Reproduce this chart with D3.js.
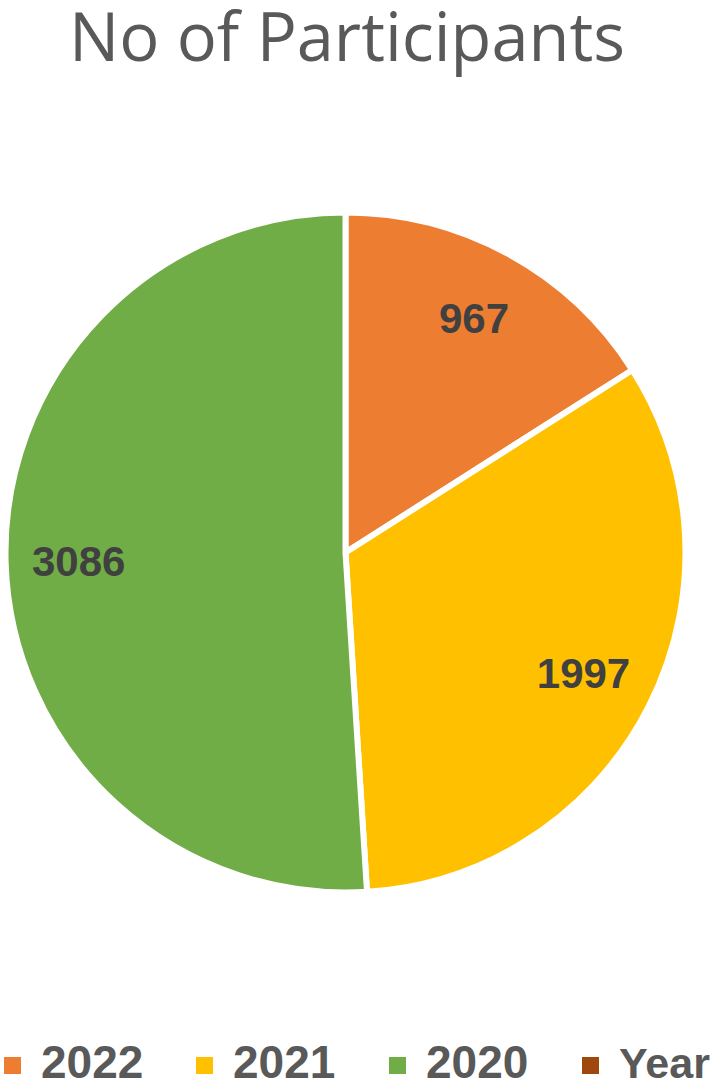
<!DOCTYPE html>
<html>
<head>
<meta charset="utf-8">
<script src="https://cdn.jsdelivr.net/npm/d3@7"></script>
<style>
  body { margin: 0; background: #fff; }
  svg { display: block; }
</style>
</head>
<body>
<script>
// chart data
var years = ["2022", "2021", "2020"];
var participants = [967, 1997, 3086];
var legendNames = ["2022", "2021", "2020", "Year"];
var colors = ["#ED7D31", "#FFC000", "#70AD47", "#9E480E"];

var svgWidth = 713;
var svgHeight = 1091;
var cx = 345.5, cy = 552.5, radius = 340;

var svg = d3.select("body")
  .append("svg")
  .attr("width", svgWidth)
  .attr("height", svgHeight);

// title
svg.append("text")
  .attr("x", 347)
  .attr("y", 61)
  .attr("text-anchor", "middle")
  .attr("font-family", "Open Sans, sans-serif")
  .attr("font-size", 67)
  .attr("fill", "#595959")
  .attr("textLength", 556)
  .attr("lengthAdjust", "spacingAndGlyphs")
  .text("No of Participants");

var pieData = d3.pie().sort(null)(participants);

var arc = d3.arc().innerRadius(0).outerRadius(radius);
var labelArc = d3.arc().innerRadius(267).outerRadius(267);

var chartGroup = svg.append("g")
  .attr("transform", `translate(${cx}, ${cy})`);

chartGroup.selectAll(".slice")
  .data(pieData)
  .enter()
  .append("path")
  .attr("class", "slice")
  .attr("d", arc)
  .attr("fill", (d, i) => colors[i])
  .attr("stroke", "#fff")
  .attr("stroke-width", 6)
  .attr("stroke-linejoin", "round");

chartGroup.selectAll(".label")
  .data(pieData)
  .enter()
  .append("text")
  .attr("class", "label")
  .attr("transform", d => `translate(${labelArc.centroid(d)})`)
  .attr("dy", "0.35em")
  .attr("text-anchor", "middle")
  .attr("font-family", "Liberation Sans, Arial, sans-serif")
  .attr("font-weight", "bold")
  .attr("font-size", 42)
  .attr("fill", "#404040")
  .text(d => d.data);

// legend
var legendX = [4, 196, 389, 582];
var legend = svg.selectAll(".legend")
  .data(legendNames)
  .enter()
  .append("g")
  .attr("class", "legend")
  .attr("transform", (d, i) => `translate(${legendX[i]}, 1057)`);

legend.append("rect")
  .attr("width", 17)
  .attr("height", 17)
  .attr("fill", (d, i) => colors[i]);

legend.append("text")
  .attr("x", 37)
  .attr("y", 21)
  .attr("font-family", "Liberation Sans, Arial, sans-serif")
  .attr("font-weight", "bold")
  .attr("font-size", (d, i) => i == 3 ? 43 : 46)
  .attr("fill", "#595959")
  .text(d => d);
</script>
</body>
</html>
